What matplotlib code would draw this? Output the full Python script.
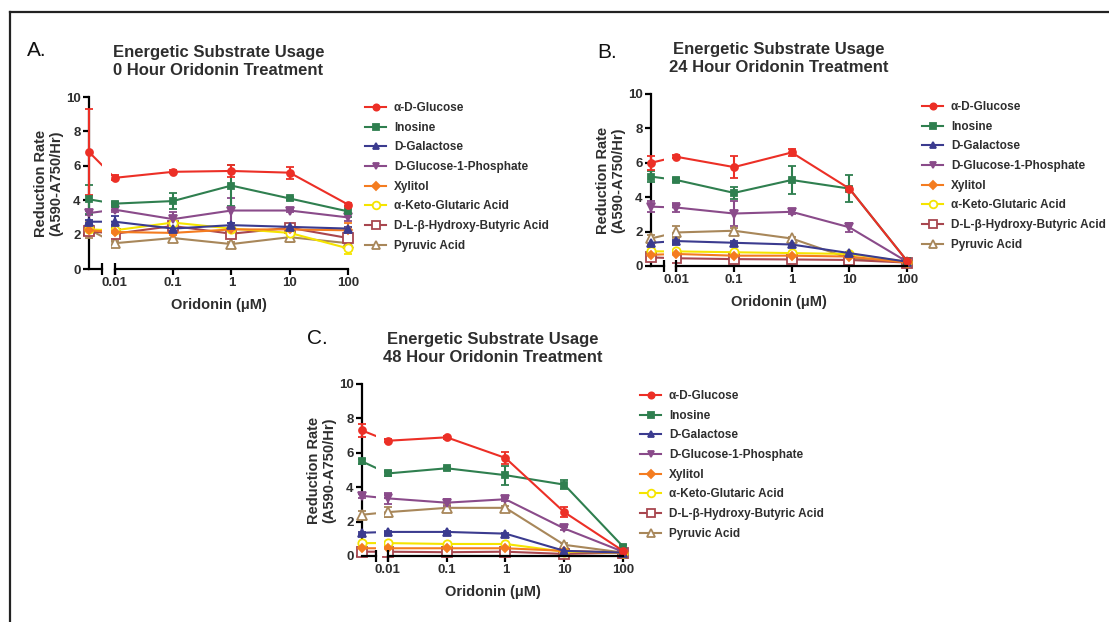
import matplotlib
matplotlib.use("Agg")
import matplotlib.pyplot as plt
from matplotlib.lines import Line2D

plt.rcParams['font.family'] = ['Liberation Sans', 'DejaVu Sans']

# ---------------- data ----------------
CONC = [0, 0.01, 0.1, 1, 10, 100]
XTICKS = [0.01, 0.1, 1, 10, 100]
XTICKLABELS = ["0.01", "0.1", "1", "10", "100"]
YTICKS = [0, 2, 4, 6, 8, 10]

SERIES = ["α-D-Glucose", "Inosine", "D-Galactose", "D-Glucose-1-Phosphate",
          "Xylitol", "α-Keto-Glutaric Acid", "D-L-β-Hydroxy-Butyric Acid", "Pyruvic Acid"]

# Panel A: 0 hour
A_MEANS = [
    [6.8, 5.3, 5.65, 5.7, 5.6, 3.75],
    [4.05, 3.8, 3.95, 4.85, 4.1, 3.35],
    [2.75, 2.75, 2.35, 2.55, 2.45, 2.35],
    [3.25, 3.45, 2.9, 3.4, 3.4, 3.0],
    [2.25, 2.15, 2.1, 2.3, 2.3, 2.25],
    [2.3, 2.25, 2.7, 2.35, 2.1, 1.2],
    [2.2, 2.05, 2.5, 2.05, 2.4, 1.8],
    [2.3, 1.5, 1.8, 1.45, 1.85, 1.5],
]
A_ERRS = [
    [2.5, 0.15, 0.08, 0.35, 0.35, 0.1],
    [0.85, 0.1, 0.45, 1.2, 0.1, 0.3],
    [0.1, 0.35, 0.1, 0.15, 0.1, 0.1],
    [0.1, 0.15, 0.4, 0.7, 0.1, 0.2],
    [0.15, 0.1, 0.1, 0.1, 0.1, 0.45],
    [0.2, 0.1, 0.3, 0.15, 0.15, 0.3],
    [0.1, 0.15, 0.2, 0.2, 0.15, 0.3],
    [0.5, 0.1, 0.15, 0.1, 0.3, 0.2],
]

# Panel B: 24 hour
B_MEANS = [
    [6.0, 6.35, 5.75, 6.6, 4.5, 0.3],
    [5.2, 5.0, 4.25, 5.0, 4.5, 0.3],
    [1.35, 1.45, 1.35, 1.25, 0.75, 0.25],
    [3.45, 3.4, 3.05, 3.15, 2.25, 0.25],
    [0.65, 0.7, 0.6, 0.6, 0.55, 0.2],
    [0.85, 0.85, 0.8, 0.75, 0.7, 0.25],
    [0.5, 0.45, 0.4, 0.38, 0.35, 0.2],
    [1.6, 1.95, 2.05, 1.6, 0.45, 0.25],
]
B_ERRS = [
    [0.4, 0.1, 0.65, 0.2, 0.1, 0.05],
    [0.3, 0.1, 0.35, 0.8, 0.8, 0.05],
    [0.08, 0.08, 0.08, 0.08, 0.05, 0.03],
    [0.3, 0.25, 0.7, 0.1, 0.25, 0.05],
    [0.05, 0.05, 0.05, 0.05, 0.05, 0.03],
    [0.1, 0.08, 0.08, 0.08, 0.08, 0.03],
    [0.15, 0.15, 0.1, 0.1, 0.05, 0.03],
    [0.2, 0.35, 0.15, 0.1, 0.1, 0.05],
]

# Panel C: 48 hour
C_MEANS = [
    [7.3, 6.7, 6.9, 5.7, 2.55, 0.3],
    [5.5, 4.8, 5.1, 4.7, 4.15, 0.55],
    [1.35, 1.4, 1.4, 1.3, 0.3, 0.2],
    [3.5, 3.35, 3.1, 3.3, 1.6, 0.25],
    [0.45, 0.45, 0.45, 0.45, 0.3, 0.2],
    [0.75, 0.75, 0.7, 0.7, 0.25, 0.2],
    [0.25, 0.25, 0.22, 0.25, 0.12, 0.2],
    [2.4, 2.55, 2.8, 2.8, 0.65, 0.2],
]
C_ERRS = [
    [0.4, 0.1, 0.1, 0.35, 0.3, 0.05],
    [0.15, 0.15, 0.1, 0.55, 0.25, 0.1],
    [0.05, 0.05, 0.05, 0.05, 0.03, 0.03],
    [0.1, 0.3, 0.2, 0.1, 0.1, 0.03],
    [0.03, 0.03, 0.03, 0.03, 0.03, 0.03],
    [0.05, 0.05, 0.05, 0.05, 0.03, 0.03],
    [0.05, 0.05, 0.05, 0.05, 0.03, 0.03],
    [0.2, 0.3, 0.2, 0.1, 0.1, 0.03],
]

# ---------------- styles ----------------
COLORS = ['#ec2f26', '#2f7f4f', '#3b3b8f', '#8a4b8a', '#f47c20', '#f5e400', '#a8464f', '#a8875a']
MARKERS = ['o', 's', '^', 'v', 'D', 'o', 's', '^']
MSIZES = [5, 5, 5.5, 5.5, 4.5, 6, 6.5, 6.5]
FILLED = [True, True, True, True, True, False, False, False]

CTRL_X = 10 ** -2.44     # where the "0" (control) point is placed on the log axis
BREAK_LO = 10 ** -2.21   # axis break start
BREAK_HI = 10 ** -2.07   # axis break end

TXT = '#2e2e2e'
W, H = 1109, 622
fig = plt.figure(figsize=(W / 100, H / 100), dpi=100)
fig.patch.set_facecolor('white')

# frame lines (top and left)
fig.add_artist(Line2D([10 / W, 1.0], [1 - 12 / H, 1 - 12 / H], color='#222222', lw=1.6))
fig.add_artist(Line2D([10 / W, 10 / W], [0, 1 - 12 / H], color='#222222', lw=1.6))


def px_rect(left, right, top, bottom):
    return [left / W, 1 - bottom / H, (right - left) / W, (bottom - top) / H]


def draw_panel(rect, title, means, errs, leg_xy):
    ax = fig.add_axes(rect)
    ax.set_xscale('log')
    ax.set_xlim(CTRL_X, 100)
    ax.set_ylim(0, 10)
    xs = [CTRL_X if c == 0 else c for c in CONC]
    handles = []
    for i, name in enumerate(SERIES):
        c = COLORS[i]
        mfc = c if FILLED[i] else 'white'
        h = ax.errorbar(xs, means[i], yerr=errs[i], color=c, marker=MARKERS[i],
                        ms=MSIZES[i], mfc=mfc, mec=c,
                        mew=1.3, lw=1.5, elinewidth=1.5, capsize=3, capthick=1.5,
                        clip_on=False, zorder=3 + (8 - i) * 0.01)
        h[0].set_clip_on(False)
        for a in h[1]:
            a.set_clip_on(False)
        for coll in h[2]:
            coll.set_clip_on(False)
        handles.append(Line2D([], [], color=c, marker=MARKERS[i], ms=MSIZES[i] - 0.5,
                              mfc=mfc, mec=c, mew=1.3, lw=1.5, label=name))
    # axis break
    ax.axvspan(BREAK_LO, BREAK_HI, color='white', zorder=3.5, lw=0)
    ax.spines['top'].set_visible(False)
    ax.spines['right'].set_visible(False)
    ax.spines['bottom'].set_visible(False)
    ax.spines['left'].set_linewidth(1.6)
    ax.plot([CTRL_X, BREAK_LO], [0, 0], color='k', lw=1.6, clip_on=False, zorder=4)
    ax.plot([0.01, 100], [0, 0], color='k', lw=1.6, clip_on=False, zorder=4)
    ax.plot([BREAK_LO, 0.01], [0, 0], ls='none', marker='|', ms=8, mew=1.6,
            color='k', clip_on=False, zorder=4)
    ax.set_xticks(XTICKS)
    ax.set_xticklabels(XTICKLABELS)
    ax.xaxis.set_minor_locator(matplotlib.ticker.NullLocator())
    ax.set_yticks(YTICKS)
    ax.tick_params(direction='out', length=4, width=1.6, colors='k',
                   labelsize=9.5, labelcolor=TXT, pad=2)
    for lab in ax.get_xticklabels() + ax.get_yticklabels():
        lab.set_fontweight('bold')
    ax.set_xlabel("Oridonin (μM)", fontsize=10.5, fontweight='bold', color=TXT, labelpad=6)
    ax.set_ylabel("Reduction Rate\n(A590-A750/Hr)", fontsize=10.5, fontweight='bold',
                  color=TXT, labelpad=2, linespacing=1.1)
    ax.set_title(title, fontsize=12, fontweight='bold', color=TXT, pad=16, linespacing=1.25)
    ax.patch.set_alpha(0)
    ax.legend(handles=handles, loc='upper left',
              bbox_to_anchor=(leg_xy[0] / W, 1 - leg_xy[1] / H),
              bbox_transform=fig.transFigure, frameon=False,
              prop={'weight': 'bold', 'size': 8.5}, labelcolor=TXT,
              handlelength=1.8, handletextpad=0.65, labelspacing=0.65,
              borderaxespad=0, borderpad=0)
    return ax


draw_panel(px_rect(89, 348, 97, 269),
           "Energetic Substrate Usage\n0 Hour Oridonin Treatment",
           A_MEANS, A_ERRS, (365, 102))
draw_panel(px_rect(651, 907, 94, 266),
           "Energetic Substrate Usage\n24 Hour Oridonin Treatment",
           B_MEANS, B_ERRS, (922, 101))
draw_panel(px_rect(362, 623, 384, 556),
           "Energetic Substrate Usage\n48 Hour Oridonin Treatment",
           C_MEANS, C_ERRS, (640, 390))

fig.text(27 / W, 1 - 50 / H, "A.", fontsize=15, color='#111111', va='center', ha='left')
fig.text(597 / W, 1 - 52 / H, "B.", fontsize=15, color='#111111', va='center', ha='left')
fig.text(307 / W, 1 - 338 / H, "C.", fontsize=15, color='#111111', va='center', ha='left')

fig.savefig("out.png", dpi=100, facecolor='white')
